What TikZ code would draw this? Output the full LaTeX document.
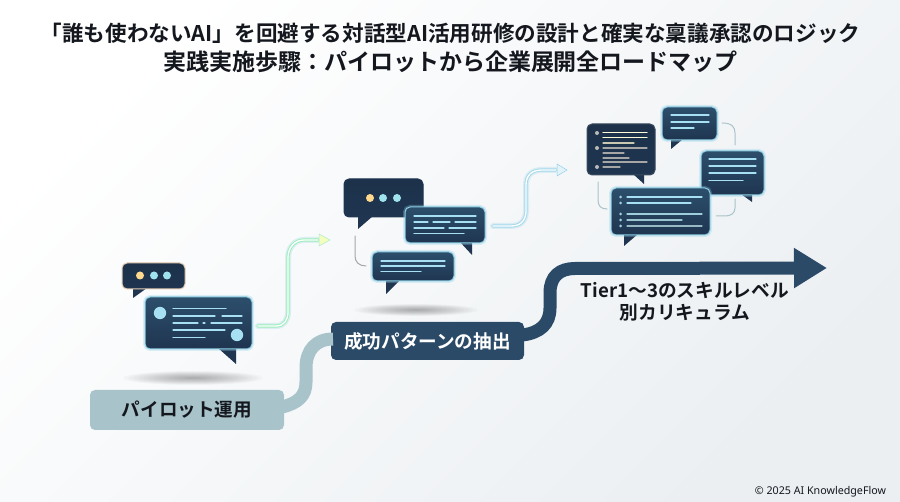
\documentclass[tikz,border=0pt]{standalone}
\usepackage{fontspec}
\setmainfont{Noto Sans CJK JP}[BoldFont={Noto Sans CJK JP Bold}]
\newfontfamily\latinf{Noto Sans}
\usetikzlibrary{arrows.meta,shadings,calc}
\definecolor{navy}{HTML}{1F3550}
\definecolor{navyb}{HTML}{2C4F6C}
\definecolor{glow}{HTML}{8FD0E6}
\definecolor{tline}{HTML}{A6E0F2}
\definecolor{ribdark}{HTML}{2A4A68}
\definecolor{riblight}{HTML}{A9C3CB}
\definecolor{ink}{HTML}{14181E}
\definecolor{dotw}{HTML}{FFD98E}
\definecolor{dotc}{HTML}{9FE3EE}
\definecolor{bgend}{HTML}{EBEFF2}
\tikzset{
  x=1pt,y=-1pt,
  basebub/.style={rectangle,rounded corners=5pt,inner sep=0pt,line width=1pt},
  bub/.style={basebub,preaction={draw=glow,line width=4pt,draw opacity=.3},draw=glow,top color=navyb,bottom color=navy},
  darkbub/.style={basebub,draw=#1,top color=navy!92!black,bottom color=navy},
  tailfill/.style={fill=navy,draw=none},
  txt/.style={line width=1.2pt,draw=tline,line cap=round},
  txtdim/.style={line width=1.2pt,draw=gray!70,line cap=round},
  link/.style={line width=1pt,draw=#1,line cap=round},
  halo/.style={line width=6pt,draw=#1,draw opacity=.25,line cap=round},
  neon/.style={line width=3.2pt,draw=#1,line cap=round},
  neoncore/.style={line width=1.3pt,draw=white,line cap=round},
  tag/.style={rectangle,rounded corners=5pt,inner sep=0pt,font=\bfseries\fontsize{18.6}{22}\selectfont},
}
\newcommand{\bubnode}[6][bub]{%
  \node[#1,minimum width=#4-#2,minimum height=#5-#3] (#6) at ({(#2+#4)/2},{(#3+#5)/2}) {};}
\newcommand{\floorshadow}[4]{%
  \foreach \k in {1,...,14}{\fill[black,opacity=.022] (#1,#2) ellipse [x radius={#3*\k/14},y radius={#4*\k/14}];}}
\begin{document}
\begin{tikzpicture}
\useasboundingbox (0,0) rectangle (900,502);
\shade[shading=axis,top color=white,bottom color=bgend,shading angle=45] (0,0) rectangle (900,502);

% floor shadows
\floorshadow{193}{378}{70}{7}
\floorshadow{416}{310}{62}{6}

% ribbons
\node[tag,fill=riblight,text=ink,minimum width=194,minimum height=40] (pilot) at (187,410) {パイロット運用};
\node[tag,fill=ribdark,text=white,minimum width=193,minimum height=38] (succ) at (427.5,341) {成功パターンの抽出};
\draw[riblight,line width=13pt] (pilot.east) ++(-2,-3) .. controls (298,403) and (306,396) .. (306,382) -- (306,368) .. controls (306,350) and (316,339) .. (333,339);
\coordinate (goal) at (827,268);
\draw[ribdark,line width=13pt,-{Triangle[length=33pt,width=38pt]}] (succ.east) ++(-2,-6) .. controls (540,333) and (550,324) .. (550,308) -- (550,293) .. controls (550,276) and (560,268.5) .. (575,268.5) -- (goal);
\node[font=\bfseries\fontsize{18.7}{22}\selectfont,text=ink,align=center] (tier) at (685,302) {Tier1〜3のスキルレベル\\別カリキュラム};

% title
\node[font=\bfseries\fontsize{21.6}{29}\selectfont,text=ink,align=center] (title) at (450.5,47.5) {「誰も使わないAI」を回避する対話型AI活用研修の設計と確実な稟議承認のロジック\\\fontsize{23}{29}\selectfont 実践実施歩驟：パイロットから企業展開全ロードマップ};
\node[font=\latinf\fontsize{10.7}{12}\selectfont,text=ink,anchor=east] (copy) at (889.5,492) {© 2025 AI KnowledgeFlow};

% neon arrows
\coordinate (n1a) at (258,326); \coordinate (n1b) at (330,240);
\coordinate (n2a) at (493,226); \coordinate (n2b) at (567,170);
\def\pathA{(n1a) -- (276,326) .. controls (284,326) and (288,320) .. (288,312) -- (288,258) .. controls (288,248) and (294,240) .. (304,240) -- (318,240)}
\def\pathB{(n2a) -- (510,226) .. controls (520,226) and (525,222) .. (526,212) -- (526,185) .. controls (526,175) and (532,170) .. (542,170) -- (556,170)}
\draw[halo=glow] \pathA;
\draw[neon=glow!60!green!60!white] \pathA;
\draw[neoncore] \pathA;
\fill[fill=green!18!yellow!25!white,draw=green!25!glow!60,line width=.5pt] (319,234) -- (n1b) -- (319,246) -- cycle;
\draw[halo=glow] \pathB;
\draw[neon=glow!80] \pathB;
\draw[neoncore] \pathB;
\fill[fill=white!75!glow,draw=glow,line width=.5pt] (557,164) -- (n2b) -- (557,176) -- cycle;

% stage 1 bubbles
\fill[tailfill] (133,288) -- (133,298) -- (147,288) -- cycle;
\bubnode[darkbub={gray!50!orange!40}]{122}{263}{185}{289}{s1a}
\foreach \cx/\c in {140/dotw,154/dotc,167/dotc}{\fill[\c] (\cx,275.5) circle (4);}
\fill[tailfill] (218,348) -- (236,364) -- (236,348) -- cycle;
\bubnode{145}{297}{252}{349}{s1b}
\fill[tline] (160,313) circle (6.2);
\fill[tline] (237,335) circle (6.2);
\draw[txt] (173,308.5) -- (226,308.5);
\draw[txt] (173,316) -- (215,316) (222,316) -- (242,316);
\draw[txt] (173,323) -- (198,323) (203,323) -- (205,323) (211,323) -- (242,323);
\draw[txt] (173,330) -- (225,330);
\draw[txt] (173,337.5) -- (205,337.5);

% stage 2 bubbles
\draw[link=gray!70] (355,236) -- (355,256) .. controls (355,262) and (359,266) .. (366,266);
\fill[tailfill] (358,216) -- (358,229) -- (373,216) -- cycle;
\bubnode[darkbub={navy}]{344}{179}{423}{217}{s2a}
\foreach \cx/\c in {370/dotw,383/dotc,397/dotc}{\fill[\c] (\cx,198) circle (4);}
\fill[tailfill] (460,242) -- (472,255) -- (472,242) -- cycle;
\bubnode{405}{207}{485}{243}{s2b}
\draw[txt] (414,216) -- (476,216);
\draw[txt] (414,222) -- (428,222) (433,222) -- (450,222) (455,222) -- (476,222);
\draw[txt] (414,228) -- (444,228) (449,228) -- (476,228);
\draw[txt] (414,233.5) -- (464,233.5);
\fill[tailfill] (386,280) -- (386,294) -- (400,280) -- cycle;
\bubnode{372}{252}{454}{281}{s2c}
\draw[txt] (381,261) -- (445,261);
\draw[txt] (381,266) -- (445,266);
\draw[txt] (381,271.5) -- (421,271.5);

% stage 3 bubbles
\draw[link=riblight] (722,123) .. controls (732,123) and (735,127) .. (735,133) -- (735,145);
\draw[link=riblight] (735,199) -- (735,208) .. controls (735,214) and (730,216) .. (725,216) -- (716,216);
\draw[link=riblight] (598,182) -- (598,200) .. controls (598,206) and (601,209) .. (607,209);
\fill[tailfill] (633,174) -- (644,184) -- (644,174) -- cycle;
\bubnode[darkbub={navy!70!gray}]{587}{124}{655}{175}{s3a}
\foreach \cy in {133,148,167}{\fill[gray!55] (597,\cy) circle (2);}
\draw[line width=1.2pt,draw=white!85!yellow,line cap=round] (603,132.5) -- (647,132.5) (603,137.5) -- (647,137.5);
\draw[line width=1.2pt,draw=yellow!20!gray!60!white,line cap=round] (603,143) -- (634,143);
\draw[txtdim] (603,148) -- (647,148) (603,153) -- (624,153) (603,158) -- (629,158) (603,162) -- (647,162) (603,167) -- (620,167);
\fill[tailfill] (671,139) -- (671,149) -- (683,139) -- cycle;
\bubnode{662}{107}{717}{140}{s3b}
\draw[txt] (671,115) -- (709,115);
\draw[txt] (671,122) -- (709,122);
\draw[txt] (671,128) -- (694,128);
\fill[tailfill] (741,194) -- (752,202) -- (752,194) -- cycle;
\bubnode{701}{151}{764}{195}{s3c}
\draw[txt] (709,159) -- (756,159);
\draw[txt] (709,166) -- (756,166);
\draw[txt] (709,173) -- (756,173);
\draw[txt] (709,180.5) -- (743,180.5);
\fill[tailfill] (624,234) -- (624,246) -- (638,234) -- cycle;
\bubnode{611}{188}{710}{235}{s3d}
\foreach \cy in {197,203,214,220,226}{\fill[tline!80!gray] (620.5,\cy) circle (1.5);}
\draw[txt] (627,197) -- (702,197);
\draw[txt] (627,203) -- (691,203);
\draw[txt,draw=tline!80!gray] (627,214) -- (702,214);
\draw[txt,draw=tline!70!gray] (627,220) -- (682,220);
\draw[txt,draw=tline!60!gray] (627,226) -- (702,226);
\end{tikzpicture}
\end{document}
